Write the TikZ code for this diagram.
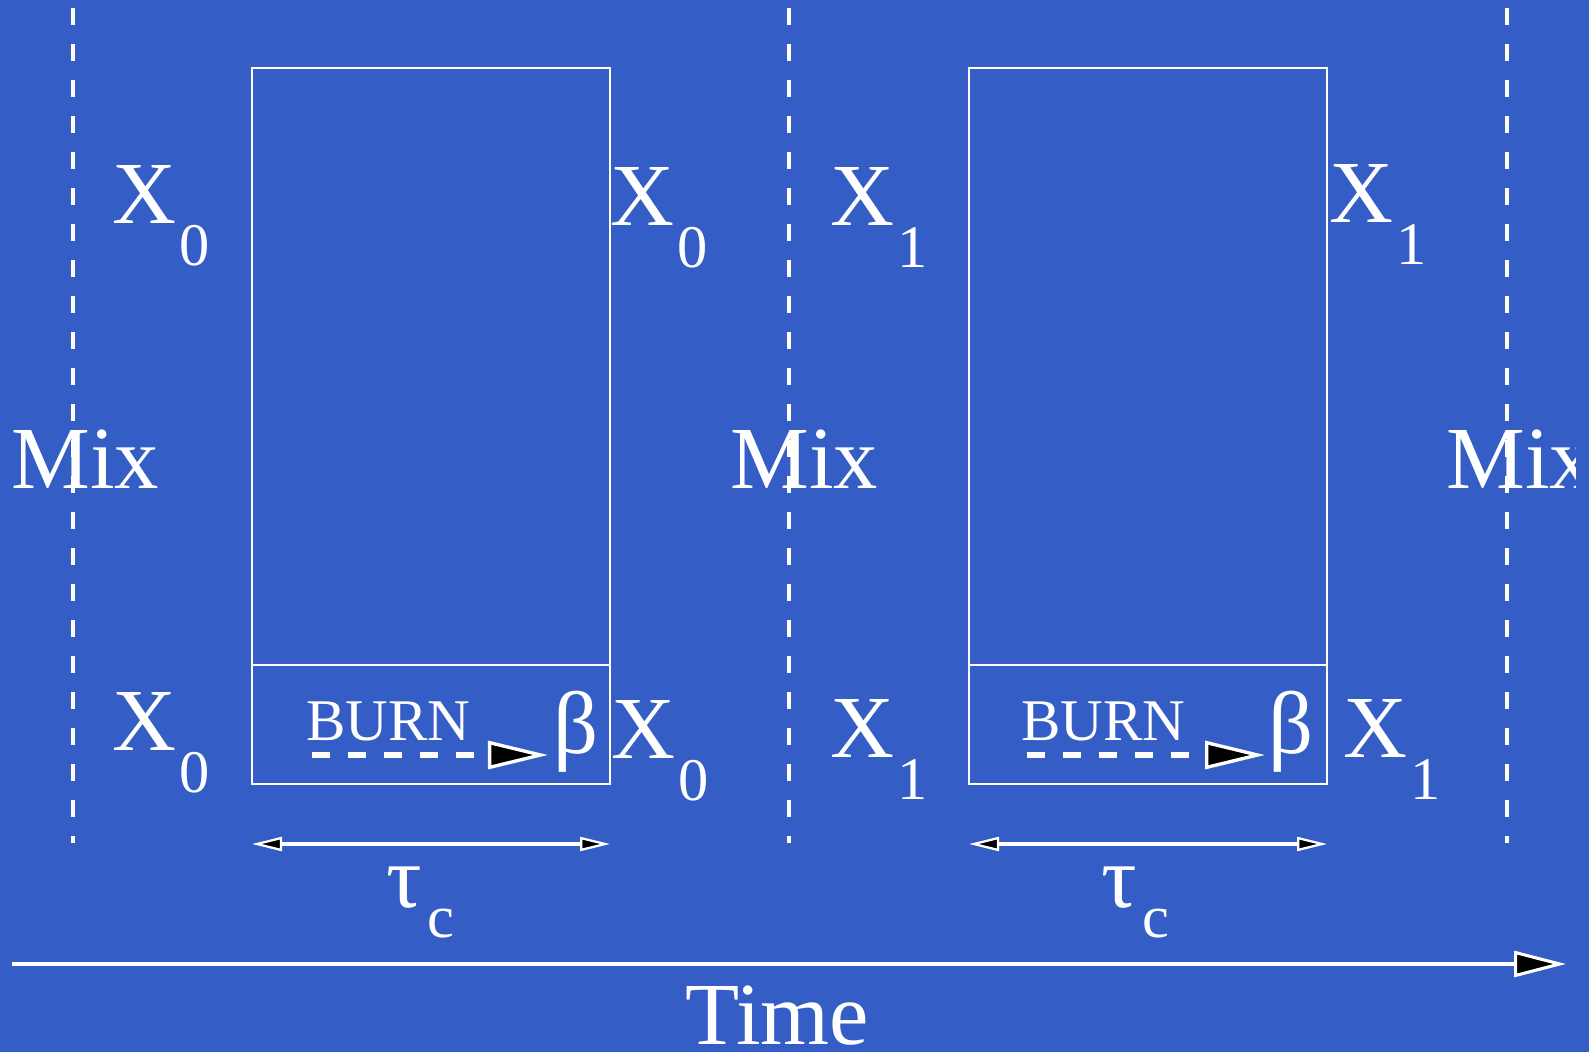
\documentclass[tikz,border=0pt]{standalone}
\usepackage{fontspec}
\setmainfont{Liberation Serif}
\definecolor{slideblue}{HTML}{345DC5}
\usetikzlibrary{arrows.meta,positioning}
\newcommand{\bigsize}{\fontsize{63pt}{70pt}\selectfont}
\newcommand{\subsize}{\fontsize{43pt}{48pt}\selectfont}
\newcommand{\burnsize}{\fontsize{42pt}{46pt}\selectfont}
\newcommand{\Xlab}[1]{X\kern2.5pt\lower30pt\hbox{\subsize #1}}
\newcommand{\taulab}{τ\kern4pt\lower22pt\hbox{\subsize c}}

\begin{document}
\begin{tikzpicture}[x=0.025cm, y=-0.025cm,
  lab/.style={text=white, inner sep=0pt, anchor=base west, font=\bigsize},
  burnlab/.style={text=white, inner sep=0pt, anchor=base west, font=\burnsize},
  cellbox/.style={draw=white, line width=2.1pt},
  mixline/.style={draw=white, line width=2.3pt, dash pattern=on 12.1pt off 13.5pt},
  spanarrow/.style={draw=white, line width=3.4pt,
    {Triangle[length=0.75cm, width=0.35cm, fill=black, line width=1.6pt]}-{Triangle[length=0.75cm, width=0.35cm, fill=black, line width=1.6pt]}},
  burnarrow/.style={draw=white, line width=3.7pt, dash pattern=on 12.8pt off 12.8pt,
    -{Triangle[length=1.5cm, width=0.7cm, fill=black, line width=2.4pt]}},
  timearrow/.style={draw=white, line width=2.4pt,
    -{Triangle[length=1.3cm, width=0.65cm, fill=black, line width=2.2pt]}}]
\fill[slideblue] (0,0) rectangle (1589,1052);
\useasboundingbox (0,0) rectangle (1589,1052);

% mixing lines
\coordinate (mixatop) at (73,8);    \coordinate (mixabot) at (73,843);
\coordinate (mixbtop) at (789,8);   \coordinate (mixbbot) at (789,843);
\coordinate (mixctop) at (1507,8);  \coordinate (mixcbot) at (1507,843);
\node[lab] (mixa) at (11,488) {Mix};
\node[lab] (mixb) at (730,488) {Mix};
\begin{scope}
\clip (0,0) rectangle (1575,1052);
\node[lab] (mixc) at (1446,488) {Mix};
\end{scope}
\draw[mixline] (mixatop) -- (mixabot);
\draw[mixline] (mixbtop) -- (mixbbot);
\draw[mixline] (mixctop) -- (mixcbot);

% chains
\coordinate (cella) at (252,68);  \coordinate (cellasw) at (610,784);
\coordinate (cellb) at (969,68);  \coordinate (cellbsw) at (1327,784);
\draw[cellbox] (cella) rectangle (cellasw);
\draw[cellbox] (cellb) rectangle (cellbsw);
\draw[cellbox] (cella |- 0,665) -- (cellasw |- 0,665);
\draw[cellbox] (cellb |- 0,665) -- (cellbsw |- 0,665);

\node[lab] (xatop) at (112,223) {\Xlab{0}};
\node[lab] (xbtop) at (610,225) {\Xlab{0}};
\node[lab] (xctop) at (830,225) {\Xlab{1}};
\node[lab] (xdtop) at (1329,222) {\Xlab{1}};
\node[lab] (xabot) at (112,750) {\Xlab{0}};
\node[lab] (xbbot) at (611,758) {\Xlab{0}};
\node[lab] (xcbot) at (830,757) {\Xlab{1}};
\node[lab] (xdbot) at (1343,757) {\Xlab{1}};

% burn-in
\node[burnlab] (burna) at (306,740) {BURN};
\node[burnlab] (burnb) at (1021,740) {BURN};
\node[lab] (betaa) at (553,753) {β};
\node[lab] (betab) at (1268,753) {β};
\coordinate (burnas) at (312,755); \coordinate (burnae) at (548,755);
\coordinate (burnbs) at (1027,755); \coordinate (burnbe) at (1265,755);
\draw[burnarrow] (burnas) -- (burnae);
\draw[burnarrow] (burnbs) -- (burnbe);

% correlation time
\coordinate (spanas) at (252,844); \coordinate (spanae) at (610,844);
\coordinate (spanbs) at (969,844); \coordinate (spanbe) at (1327,844);
\draw[spanarrow] (spanas) -- (spanae);
\draw[spanarrow] (spanbs) -- (spanbe);
\node[lab] (taua) at (386,907) {\taulab};
\node[lab] (taub) at (1101,907) {\taulab};

% time axis
\coordinate (times) at (12,964); \coordinate (timee) at (1566,964);
\draw[timearrow] (times) -- (timee);
\node[lab, anchor=base] (timelab) at (777,1044) {Time};
\end{tikzpicture}
\end{document}
